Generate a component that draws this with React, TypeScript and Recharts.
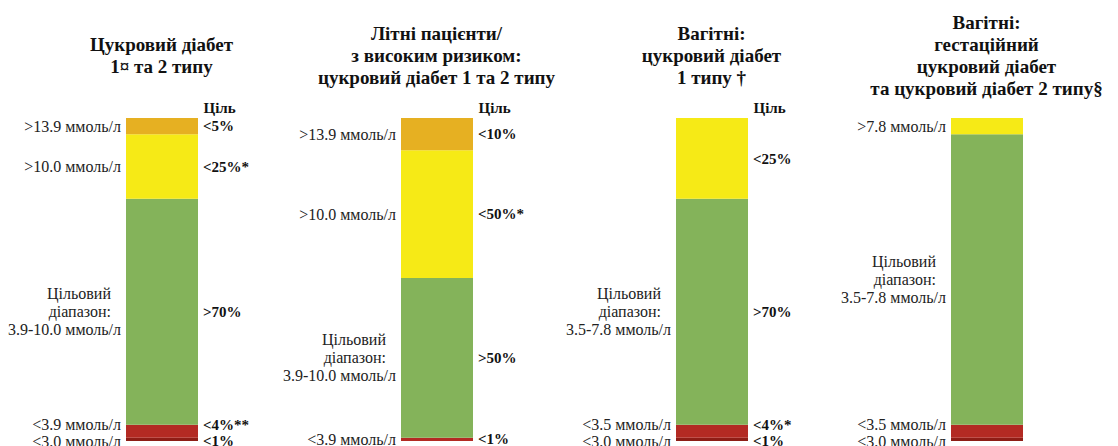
import { BarChart, Bar, XAxis, YAxis, LabelList } from "recharts";

const titles = [
  ["Цукровий діабет", "1¤ та 2 типу"],
  ["Літні пацієнти/", "з високим ризиком:", "цукровий діабет 1 та 2 типу"],
  ["Вагітні:", "цукровий діабет", "1 типу †"],
  ["Вагітні:", "гестаційний", "цукровий діабет", "та цукровий діабет 2 типу§"],
];
const goalHeaders = ["Ціль", "Ціль", "Ціль", ""];

// share of time in each glucose band, %
const veryHigh = [5, 10, 0, 0];
const high = [20, 39.5, 25, 5];
const inRange = [70, 49.5, 70, 90];
const low = [4, 1, 4, 4];
const veryLow = [1, 0, 1, 1];

// threshold text on the left of each band
const veryHighNames = [">13.9 ммоль/л", ">13.9 ммоль/л", "", ""];
const highNames = [">10.0 ммоль/л", ">10.0 ммоль/л", "", ">7.8 ммоль/л"];
const inRangeNames = [
  "Цільовий|діапазон:|3.9-10.0 ммоль/л",
  "Цільовий|діапазон:|3.9-10.0 ммоль/л",
  "Цільовий|діапазон:|3.5-7.8 ммоль/л",
  "Цільовий|діапазон:|3.5-7.8 ммоль/л",
];
const lowNames = ["<3.9 ммоль/л", "<3.9 ммоль/л", "<3.5 ммоль/л", "<3.5 ммоль/л"];
const veryLowNames = ["<3.0 ммоль/л", "", "<3.0 ммоль/л", "<3.0 ммоль/л"];

// goal text on the right of each band
const veryHighGoals = ["<5%", "<10%", "", ""];
const highGoals = ["<25%*", "<50%*", "<25%", ""];
const inRangeGoals = [">70%", ">50%", ">70%", ""];
const lowGoals = ["<4%**", "<1%", "<4%*", ""];
const veryLowGoals = ["<1%", "", "<1%", ""];

type BandKey = "veryHigh" | "high" | "inRange" | "low" | "veryLow";

const colors: Record<BandKey, string> = {
  veryHigh: "#e6b022",
  high: "#f6ea16",
  inRange: "#84b35a",
  low: "#b32a23",
  veryLow: "#8e1d16",
};

const names: Record<BandKey, string[]> = {
  veryHigh: veryHighNames,
  high: highNames,
  inRange: inRangeNames,
  low: lowNames,
  veryLow: veryLowNames,
};
const goals: Record<BandKey, string[]> = {
  veryHigh: veryHighGoals,
  high: highGoals,
  inRange: inRangeGoals,
  low: lowGoals,
  veryLow: veryLowGoals,
};

const data = titles.map((t, i) => ({
  name: t.join(" "),
  veryHigh: veryHigh[i],
  high: high[i],
  inRange: inRange[i],
  low: low[i],
  veryLow: veryLow[i],
}));

const FONT = "Liberation Serif";
const BAR = 72;

const TitleTick = (props: any) => {
  const { x, y, payload } = props;
  const i = props.index ?? payload.index;
  const lines = titles[i] ?? [];
  const top = y - 63 - ((lines.length - 1) * 22) / 2;
  return (
    <g>
      <text textAnchor="middle" fontFamily={FONT} fontWeight={700} fontSize={19} fill="#111">
        {lines.map((l, k) => (
          <tspan key={k} x={x} y={top + k * 22} dy="0.35em">
            {l}
          </tspan>
        ))}
      </text>
      {goalHeaders[i] ? (
        <text x={x + BAR / 2 + 6} y={y - 10} dy="0.35em" fontFamily={FONT} fontWeight={700} fontSize={15} fill="#111">
          {goalHeaders[i]}
        </text>
      ) : null}
    </g>
  );
};

const bandLabel = (key: BandKey) => (props: any) => {
  const vb = props.viewBox ?? props;
  // zero-height segments are skipped by the label list, so find the panel by name
  const i = data.findIndex((d) => d.name === props.value);
  if (i < 0) return null;
  const left = names[key][i] ?? "";
  const right = goals[key][i] ?? "";
  if (!left && !right) return null;
  const x = vb.x;
  const w = vb.width;
  const top = Math.min(vb.y, vb.y + vb.height);
  const h = Math.abs(vb.height);
  let cy = top + h / 2;
  if (key === "low") cy = veryLow[i] > 0 ? top : top + h - 2;
  if (key === "veryLow") cy = top + h;
  const lines = left ? left.split("|") : [];
  const startY = cy - ((lines.length - 1) * 18) / 2;
  return (
    <g>
      {lines.length > 0 && (
        <text textAnchor="end" fontFamily={FONT} fontSize={16} fill="#222">
          {lines.map((l, k) => (
            <tspan key={k} x={x - 5 - (k < lines.length - 1 ? 10 : 0)} y={startY + k * 18} dy="0.35em">
              {l}
            </tspan>
          ))}
        </text>
      )}
      {right && (
        <text x={x + w + 5} y={cy} dy="0.35em" fontFamily={FONT} fontWeight={700} fontSize={15} fill="#111">
          {right}
        </text>
      )}
    </g>
  );
};

const order: BandKey[] = ["veryLow", "low", "inRange", "high", "veryHigh"];

export default function App() {
  return (
    <div
      style={{
        position: "absolute",
        left: 0,
        top: 0,
        width: 1118,
        height: 446,
        overflow: "hidden",
        background: "#fff",
      }}
    >
      <BarChart width={1124} height={446} data={data} margin={{ top: 0, right: 0, bottom: 5, left: 24 }}>
        <XAxis
          dataKey="name"
          orientation="top"
          height={118}
          axisLine={false}
          tickLine={false}
          tickSize={0}
          tickMargin={0}
          interval={0}
          tick={<TitleTick />}
        />
        <YAxis hide domain={[0, 100]} />
        {order.map((key) => (
          <Bar key={key} dataKey={key} stackId="tir" fill={colors[key]} barSize={BAR} isAnimationActive={false}>
            <LabelList dataKey="name" content={bandLabel(key)} />
          </Bar>
        ))}
      </BarChart>
    </div>
  );
}
